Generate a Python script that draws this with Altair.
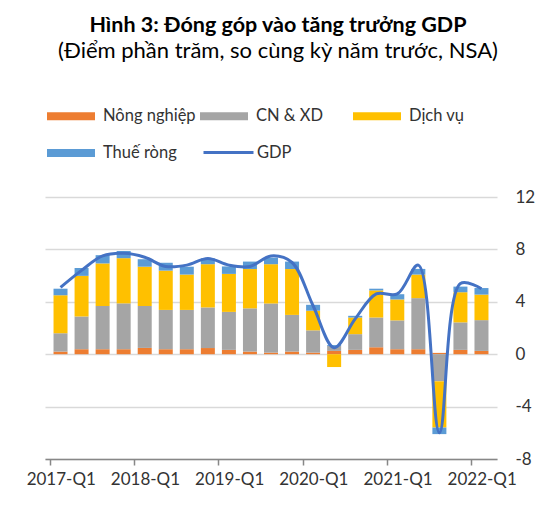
import altair as alt
import pandas as pd

quarters = ["2017-Q1", "2017-Q2", "2017-Q3", "2017-Q4",
            "2018-Q1", "2018-Q2", "2018-Q3", "2018-Q4",
            "2019-Q1", "2019-Q2", "2019-Q3", "2019-Q4",
            "2020-Q1", "2020-Q2", "2020-Q3", "2020-Q4",
            "2021-Q1", "2021-Q2", "2021-Q3", "2021-Q4",
            "2022-Q1"]

nong_nghiep = [0.20, 0.38, 0.38, 0.38, 0.48, 0.38, 0.38, 0.47, 0.33, 0.20, 0.12,
               0.20, 0.12, 0.25, 0.33, 0.53, 0.38, 0.38, 0.10, 0.33, 0.25]
cn_xd = [1.40, 2.50, 3.30, 3.50, 3.20, 3.00, 3.00, 3.10, 2.90, 3.30, 3.75,
         2.80, 1.70, 0.38, 1.20, 2.27, 2.20, 3.90, -2.07, 2.10, 2.35]
dich_vu = [2.90, 3.10, 3.25, 3.45, 3.00, 3.00, 2.70, 3.30, 2.90, 3.00, 3.00,
           3.50, 1.50, -0.98, 1.27, 2.07, 1.60, 1.80, -3.53, 2.30, 1.95]
thue_rong = [0.50, 0.60, 0.63, 0.55, 0.57, 0.60, 0.60, 0.45, 0.57, 0.57, 0.50,
             0.57, 0.45, 0.07, 0.13, 0.13, 0.40, 0.43, -0.50, 0.43, 0.50]
gdp = [5.1, 6.4, 7.5, 7.7, 7.4, 6.7, 6.8, 7.3, 6.8, 6.7, 7.5,
       7.0, 3.7, 0.5, 2.7, 4.6, 4.6, 6.8, -6.0, 5.4, 5.0]

series_names = ["Nông nghiệp", "CN & XD", "Dịch vụ", "Thuế ròng"]
series_colors = ["#ED7D31", "#A5A5A5", "#FFC000", "#5B9BD5"]
series_values = [nong_nghiep, cn_xd, dich_vu, thue_rong]

y_ticks = [-8, -4, 0, 4, 8, 12]
x_ticks = [0, 4, 8, 12, 16, 20]

rows = []
for i, q in enumerate(quarters):
    for k, (name, vals) in enumerate(zip(series_names, series_values)):
        rows.append({"idx": i, "quarter": q, "series": name, "ord": k, "value": vals[i]})
bars_df = pd.DataFrame(rows)
gdp_df = pd.DataFrame({"idx": list(range(len(quarters))), "quarter": quarters,
                       "series": ["GDP"] * len(quarters), "value": gdp})

FONT = "Lato"
n = len(quarters)

x_enc = alt.X("xpos:Q",
              scale=alt.Scale(domain=[0, n], nice=False, zero=False),
              axis=alt.Axis(values=x_ticks, title=None,
                            labelExpr="(2017 + datum.value / 4) + '-Q1'",
                            labelOffset=10.76, labelFlush=False, labelOverlap=False,
                            labelFont=FONT, labelFontSize=17, labelColor="#333333",
                            labelPadding=6,
                            domainColor="#878787", domainWidth=1.5,
                            tickColor="#878787", tickWidth=1.5, tickSize=6,
                            grid=False))
y_axis = alt.Axis(values=y_ticks, orient="right", title=None,
                  labelExpr="'' + datum.value",
                  labelAlign="left", labelPadding=18,
                  labelFont=FONT, labelFontSize=17, labelColor="#333333",
                  ticks=False, domain=False, grid=True,
                  gridColor="#D9D9D9", gridWidth=1.5)
y_scale = alt.Scale(domain=[-8, 12], nice=False)

bars = alt.Chart(bars_df).mark_bar(size=14).transform_calculate(
    xpos="datum.idx + 0.5"
).encode(
    x=x_enc,
    y=alt.Y("value:Q", stack="zero", scale=y_scale, axis=y_axis),
    fill=alt.Fill("series:N",
                  scale=alt.Scale(domain=series_names, range=series_colors),
                  legend=alt.Legend(title=None, orient="none", legendX=14, legendY=-93,
                                    direction="horizontal", columns=3, gridAlign="all",
                                    symbolType="M-2,-0.34H2V0.34H-2Z", symbolSize=576,
                                    symbolStrokeWidth=0, labelOffset=20,
                                    columnPadding=4, rowPadding=16, padding=0,
                                    labelFont=FONT, labelFontSize=16.5,
                                    labelColor="#333333", labelLimit=200)),
    order=alt.Order("ord:Q", sort="ascending"),
)

line = alt.Chart(gdp_df).mark_line(interpolate="catmull-rom", strokeWidth=3).transform_calculate(
    xpos="datum.idx + 0.5"
).encode(
    x=x_enc,
    y=alt.Y("value:Q", scale=y_scale, axis=y_axis),
    stroke=alt.Stroke("series:N",
                      scale=alt.Scale(domain=["GDP"], range=["#4472C4"]),
                      legend=alt.Legend(title=None, orient="none", legendX=169.5, legendY=-58.5,
                                        symbolType="M-2,0H2", symbolSize=625,
                                        symbolStrokeWidth=3, labelOffset=14.5, padding=0,
                                        labelFont=FONT, labelFontSize=16.5,
                                        labelColor="#333333")),
)

chart = alt.layer(bars, line).properties(
    width=452, height=262,
    autosize=alt.AutoSizeParams(type="none"),
    padding={"left": 37, "top": 189, "right": 51, "bottom": 35},
    title=alt.TitleParams(
        text="Hình 3: Đóng góp vào tăng trưởng GDP",
        subtitle="(Điểm phần trăm, so cùng kỳ năm trước, NSA)",
        font=FONT, fontSize=21.5, fontWeight="bold", color="#000000",
        subtitleFont=FONT, subtitleFontSize=22, subtitleColor="#000000",
        anchor="middle", frame="group", dx=7, offset=42, subtitlePadding=5),
).configure_view(stroke=None)

chart.save("out.html", embed_options={"renderer": "svg", "actions": False})
